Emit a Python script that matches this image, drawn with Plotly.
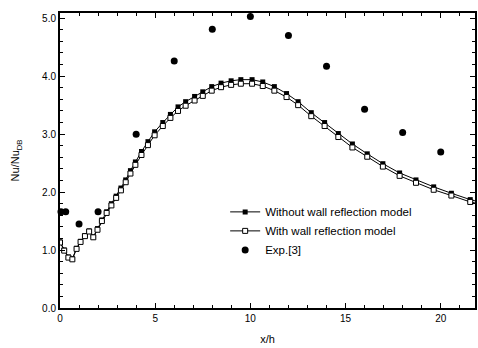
import plotly.graph_objects as go

# Numerical grid (x/h)
x_grid = [0.0, 0.22, 0.44, 0.65, 0.87, 1.08, 1.31, 1.53, 1.75, 1.97, 2.2, 2.45, 2.7,
          2.95, 3.2, 3.45, 3.7, 3.96, 4.28, 4.62, 4.97, 5.4, 5.8, 6.2, 6.6, 7.07, 7.5,
          7.97, 8.46, 8.99, 9.5, 10.09, 10.65, 11.26, 11.9, 12.51, 13.2, 13.9, 14.62,
          15.36, 16.14, 16.96, 17.84, 18.7, 19.63, 20.56, 21.55, 22.5]

nu_without = [1.14, 1.0, 0.88, 0.85, 1.03, 1.15, 1.25, 1.33, 1.23, 1.37, 1.52, 1.66, 1.80,
              1.93, 2.07, 2.21, 2.37, 2.52, 2.70, 2.87, 3.04, 3.20, 3.34, 3.47, 3.56, 3.65, 3.73,
              3.82, 3.88, 3.92, 3.94, 3.94, 3.90, 3.82, 3.70, 3.56, 3.37, 3.20, 3.01,
              2.83, 2.66, 2.49, 2.33, 2.21, 2.09, 1.98, 1.87, 1.79]

nu_with = [1.13, 0.99, 0.87, 0.84, 1.02, 1.14, 1.24, 1.32, 1.22, 1.35, 1.50, 1.64, 1.77,
           1.90, 2.03, 2.17, 2.32, 2.47, 2.64, 2.81, 2.98, 3.14, 3.28, 3.40, 3.49, 3.58, 3.66,
           3.75, 3.81, 3.85, 3.87, 3.87, 3.83, 3.75, 3.64, 3.50, 3.31, 3.14, 2.95,
           2.77, 2.61, 2.44, 2.28, 2.16, 2.04, 1.94, 1.83, 1.76]

x_exp = [0.05, 0.3, 1.0, 2.0, 4.0, 6.0, 8.0, 10.0, 12.0, 14.0, 16.0, 18.0, 20.0]
nu_exp = [1.66, 1.66, 1.45, 1.66, 3.0, 4.26, 4.81, 5.03, 4.7, 4.17, 3.43, 3.03, 2.69]

x_ticks = [0, 5, 10, 15, 20]
y_ticks = [0.0, 1.0, 2.0, 3.0, 4.0, 5.0]
y_ticklabels = ["0.0", "1.0", "2.0", "3.0", "4.0", "5.0"]

font_family = "Liberation Sans, Arial, sans-serif"

fig = go.Figure()
fig.add_trace(go.Scatter(
    x=x_grid, y=nu_without, mode="lines+markers",
    name="Without wall reflection model",
    line=dict(color="black", width=1),
    marker=dict(symbol="square", size=5, color="black"),
    cliponaxis=True,
))
fig.add_trace(go.Scatter(
    x=x_grid, y=nu_with, mode="lines+markers",
    name="With wall reflection model",
    line=dict(color="black", width=1),
    marker=dict(symbol="square", size=5, color="white", line=dict(color="black", width=1)),
    cliponaxis=True,
))
fig.add_trace(go.Scatter(
    x=x_exp, y=nu_exp, mode="markers", name="Exp.[3]",
    marker=dict(symbol="circle", size=7, color="black"),
    cliponaxis=False,
))

axis_common = dict(
    showline=True, linecolor="black", linewidth=2, mirror="ticks",
    ticks="inside", ticklen=5, tickwidth=1, tickcolor="black",
    showgrid=False, zeroline=False,
    tickfont=dict(family=font_family, size=10, color="black"),
)

fig.update_layout(
    width=478, height=348,
    margin=dict(l=60, r=1, t=13, b=40),
    paper_bgcolor="white", plot_bgcolor="white",
    font=dict(family=font_family, color="black"),
    showlegend=True,
    legend=dict(
        x=0.398, y=0.375, xanchor="left", yanchor="top",
        bgcolor="rgba(0,0,0,0)", borderwidth=0,
        font=dict(family=font_family, size=11.5, color="black"),
        tracegroupgap=0, itemwidth=30,
    ),
    xaxis=dict(
        range=[0, 21.8], tickvals=x_ticks,
        minor=dict(dtick=1, ticks="inside", ticklen=3, tickcolor="black"),
        title=dict(text="x/h", font=dict(family=font_family, size=11), standoff=12),
        **axis_common,
    ),
    yaxis=dict(
        range=[0, 5.09], tickvals=y_ticks, ticktext=y_ticklabels,
        minor=dict(dtick=0.2, ticks="inside", ticklen=3, tickcolor="black"),
        title=dict(text="Nu/Nu<sub>DB</sub>", font=dict(family=font_family, size=11), standoff=20),
        **axis_common,
    ),
)

fig.write_html("out.html")
